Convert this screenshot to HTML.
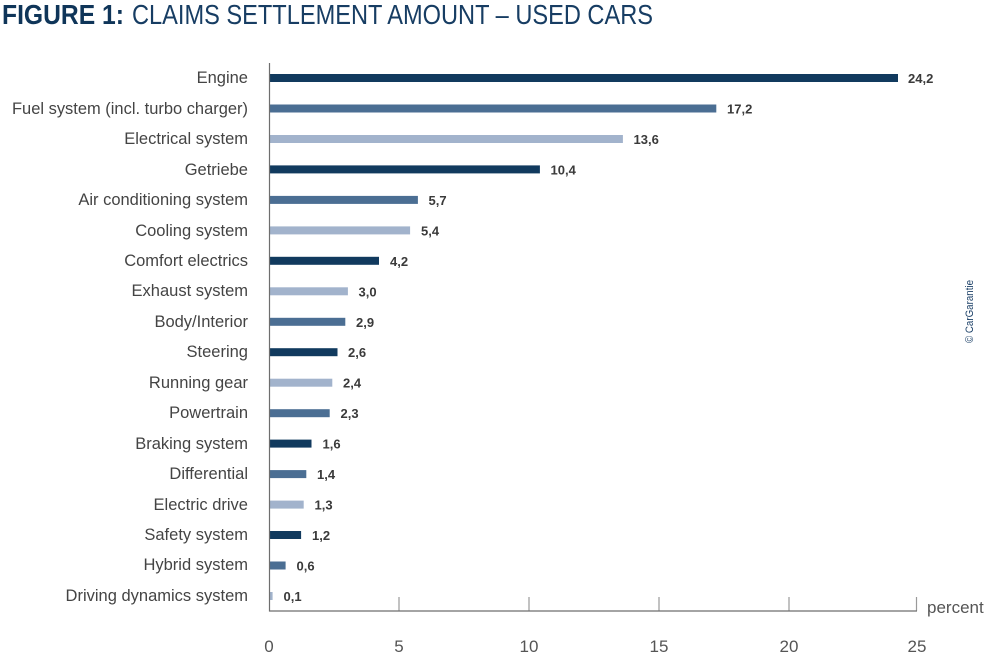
<!DOCTYPE html>
<html><head><meta charset="utf-8"><style>
html,body{margin:0;padding:0;background:#fff;}
svg{display:block;}
</style></head><body>
<svg width="985" height="657" viewBox="0 0 985 657" xmlns="http://www.w3.org/2000/svg" font-family="Liberation Sans, sans-serif">
<rect width="985" height="657" fill="#fff"/>
<text x="2" y="24" font-size="28" font-weight="bold" fill="#0f3559" textLength="122" lengthAdjust="spacingAndGlyphs">FIGURE 1:</text>
<text x="132" y="24" font-size="28" fill="#173d63" textLength="521" lengthAdjust="spacingAndGlyphs">CLAIMS SETTLEMENT AMOUNT – USED CARS</text>

<g fill="#444" font-size="16.5" text-anchor="end">
<text x="248" y="83">Engine</text>
<text x="248" y="114" textLength="236" lengthAdjust="spacingAndGlyphs">Fuel system (incl. turbo charger)</text>
<text x="248" y="144">Electrical system</text>
<text x="248" y="175">Getriebe</text>
<text x="248" y="205">Air conditioning system</text>
<text x="248" y="236">Cooling system</text>
<text x="248" y="266">Comfort electrics</text>
<text x="248" y="296">Exhaust system</text>
<text x="248" y="327">Body/Interior</text>
<text x="248" y="357">Steering</text>
<text x="248" y="388">Running gear</text>
<text x="248" y="418">Powertrain</text>
<text x="248" y="449">Braking system</text>
<text x="248" y="479">Differential</text>
<text x="248" y="510">Electric drive</text>
<text x="248" y="540">Safety system</text>
<text x="248" y="570">Hybrid system</text>
<text x="248" y="601">Driving dynamics system</text>
</g>

<g>
<rect x="270" y="74" width="628" height="8" fill="#113a5e"/>
<rect x="270" y="104.5" width="446.3" height="8" fill="#4b6e93"/>
<rect x="270" y="135" width="352.9" height="8" fill="#a2b3cc"/>
<rect x="270" y="165.4" width="269.9" height="8" fill="#113a5e"/>
<rect x="270" y="195.9" width="147.9" height="8" fill="#4b6e93"/>
<rect x="270" y="226.4" width="140.1" height="8" fill="#a2b3cc"/>
<rect x="270" y="256.8" width="109" height="8" fill="#113a5e"/>
<rect x="270" y="287.3" width="77.9" height="8" fill="#a2b3cc"/>
<rect x="270" y="317.8" width="75.3" height="8" fill="#4b6e93"/>
<rect x="270" y="348.2" width="67.5" height="8" fill="#113a5e"/>
<rect x="270" y="378.7" width="62.3" height="8" fill="#a2b3cc"/>
<rect x="270" y="409.2" width="59.7" height="8" fill="#4b6e93"/>
<rect x="270" y="439.6" width="41.5" height="8" fill="#113a5e"/>
<rect x="270" y="470.1" width="36.3" height="8" fill="#4b6e93"/>
<rect x="270" y="500.6" width="33.7" height="8" fill="#a2b3cc"/>
<rect x="270" y="531" width="31.1" height="8" fill="#113a5e"/>
<rect x="270" y="561.5" width="15.6" height="8" fill="#4b6e93"/>
<rect x="270" y="592" width="2.6" height="8" fill="#a2b3cc"/>
</g>

<g fill="#3a3a3a" font-size="13" font-weight="bold">
<text x="908" y="83">24,2</text>
<text x="727" y="113.5">17,2</text>
<text x="633.5" y="144">13,6</text>
<text x="550.5" y="174.4">10,4</text>
<text x="428.5" y="204.9">5,7</text>
<text x="421" y="235.4">5,4</text>
<text x="390" y="265.8">4,2</text>
<text x="358.5" y="296.3">3,0</text>
<text x="356" y="326.8">2,9</text>
<text x="348" y="357.2">2,6</text>
<text x="343" y="387.7">2,4</text>
<text x="340.5" y="418.2">2,3</text>
<text x="322.5" y="448.6">1,6</text>
<text x="317" y="479.1">1,4</text>
<text x="314.5" y="509.6">1,3</text>
<text x="312" y="540">1,2</text>
<text x="296.5" y="570.5">0,6</text>
<text x="283.5" y="601">0,1</text>
</g>

<g stroke="#9a9a9a" stroke-width="1.2">
<line x1="399" y1="597" x2="399" y2="611"/>
<line x1="529" y1="597" x2="529" y2="611"/>
<line x1="659" y1="597" x2="659" y2="611"/>
<line x1="789" y1="597" x2="789" y2="611"/>
<line x1="916.5" y1="597" x2="916.5" y2="611"/>
</g>
<line x1="269.5" y1="63" x2="269.5" y2="611.5" stroke="#6e6e6e" stroke-width="1.2"/>
<line x1="269" y1="611" x2="917" y2="611" stroke="#6e6e6e" stroke-width="1.2"/>

<g fill="#555" font-size="17" text-anchor="middle">
<text x="269" y="652">0</text>
<text x="399" y="652">5</text>
<text x="529" y="652">10</text>
<text x="659" y="652">15</text>
<text x="789" y="652">20</text>
<text x="917" y="652">25</text>
</g>
<text x="927" y="613" font-size="17" fill="#555">percent</text>

<text transform="translate(973,311.5) rotate(-90)" text-anchor="middle" font-size="11" fill="#1d4168" textLength="63" lengthAdjust="spacingAndGlyphs">© CarGarantie</text>
</svg>
</body></html>
